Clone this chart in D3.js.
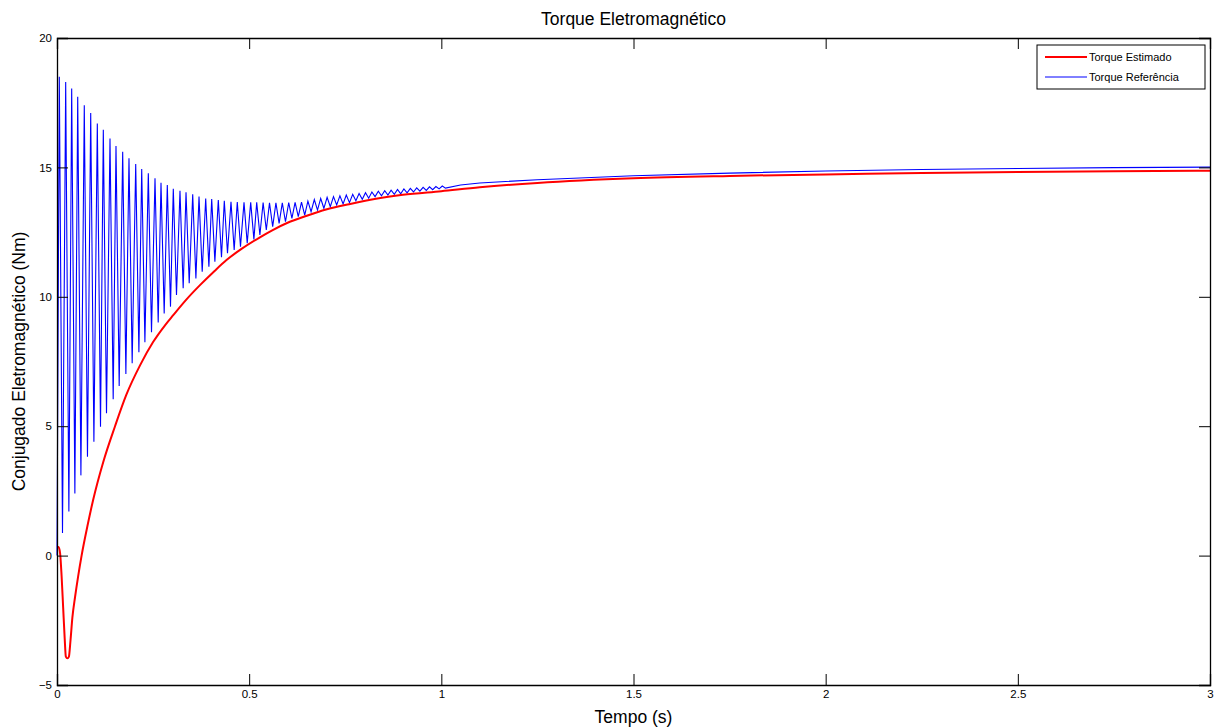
<!DOCTYPE html>
<html>
<head>
<meta charset="utf-8">
<script src="https://cdn.jsdelivr.net/npm/d3@7"></script>
<style>
  body { margin: 0; background: #fff; }
  svg { font-family: "Liberation Sans", Arial, sans-serif; }
</style>
</head>
<body>
<div id="grafica"></div>
<script>
// Datos
var xTicks = [0, 0.5, 1, 1.5, 2, 2.5, 3]
var yTicks = [-5, 0, 5, 10, 15, 20]
var series = ["Torque Estimado", "Torque Referência"]

// Torque estimado (linea roja)
var estT = [0, 0.004, 0.008, 0.012, 0.016, 0.02, 0.023, 0.027, 0.031, 0.035, 0.04, 0.047, 0.055, 0.064, 0.08, 0.094, 0.12, 0.151, 0.18, 0.216, 0.25, 0.281, 0.303, 0.337, 0.372, 0.41, 0.441, 0.48, 0.528, 0.56, 0.6, 0.65, 0.7, 0.76, 0.83, 0.9, 1.0, 1.1, 1.25, 1.5, 1.75, 2.0, 2.25, 2.5, 2.75, 3.0]
var estV = [0.33, 0.33, 0.1, -0.8, -2.0, -3.2, -3.9, -3.97, -3.9, -3.3, -2.4, -1.6, -0.8, 0, 1.2, 2.15, 3.6, 5.0, 6.2, 7.35, 8.25, 8.9, 9.3, 9.9, 10.45, 11.0, 11.42, 11.85, 12.3, 12.57, 12.86, 13.13, 13.37, 13.58, 13.79, 13.94, 14.08, 14.23, 14.4, 14.58, 14.67, 14.73, 14.78, 14.82, 14.85, 14.87]

// Torque referencia (linea azul): picos y valles de la oscilacion
var refPeakT = [0.0060, 0.0226, 0.0382, 0.0539, 0.0710, 0.0877, 0.1049, 0.1205, 0.1379, 0.1535, 0.1709, 0.1873, 0.2048, 0.2204, 0.2376, 0.2550, 0.2706, 0.2870, 0.3026, 0.3200, 0.3357, 0.3531, 0.3695, 0.3869, 0.4025, 0.4197, 0.4353, 0.4527, 0.4691, 0.4866, 0.5040, 0.5196, 0.5363, 0.5529, 0.5696, 0.5862, 0.6029, 0.6195, 0.6362, 0.6528, 0.6695, 0.6861, 0.7028, 0.7194, 0.7361, 0.7527, 0.7694, 0.7860, 0.8027, 0.8193, 0.8360, 0.8527, 0.8693, 0.8860, 0.9026, 0.9193, 0.9359, 0.9526, 0.9692, 0.9859, 1.0025]
var refPeakV = [18.5, 18.3, 18.05, 17.73, 17.4, 17.1, 16.7, 16.45, 16.12, 15.83, 15.6, 15.35, 15.13, 14.94, 14.77, 14.58, 14.41, 14.32, 14.17, 14.1, 14.04, 13.96, 13.87, 13.8, 13.78, 13.74, 13.71, 13.67, 13.66, 13.65, 13.65, 13.65, 13.64, 13.63, 13.63, 13.63, 13.64, 13.65, 13.66, 13.7, 13.76, 13.8, 13.84, 13.87, 13.9, 13.93, 13.96, 13.99, 14.02, 14.05, 14.08, 14.1, 14.12, 14.15, 14.17, 14.19, 14.21, 14.23, 14.25, 14.26, 14.28]
var refTroughT = [0.0143, 0.0309, 0.0465, 0.0622, 0.0793, 0.0960, 0.1132, 0.1288, 0.1462, 0.1618, 0.1792, 0.1956, 0.2131, 0.2287, 0.2459, 0.2633, 0.2789, 0.2953, 0.3109, 0.3283, 0.3440, 0.3614, 0.3778, 0.3952, 0.4108, 0.4280, 0.4436, 0.4610, 0.4774, 0.4949, 0.5123, 0.5279, 0.5446, 0.5612, 0.5779, 0.5945, 0.6112, 0.6278, 0.6445, 0.6611, 0.6778, 0.6944, 0.7111, 0.7277, 0.7444, 0.7610, 0.7777, 0.7943, 0.8110, 0.8276, 0.8443, 0.8610, 0.8776, 0.8943, 0.9109, 0.9276, 0.9442, 0.9609, 0.9775, 0.9942, 1.0108]
var refTroughV = [0.87, 1.7, 2.4, 3.1, 3.82, 4.4, 4.98, 5.5, 6.04, 6.55, 7.02, 7.43, 7.86, 8.24, 8.63, 9.01, 9.36, 9.62, 10.07, 10.33, 10.52, 10.71, 10.97, 11.16, 11.36, 11.53, 11.68, 11.81, 11.94, 12.07, 12.22, 12.39, 12.58, 12.71, 12.84, 12.9, 13.03, 13.1, 13.16, 13.29, 13.35, 13.42, 13.48, 13.55, 13.59, 13.64, 13.71, 13.77, 13.81, 13.87, 13.9, 13.93, 13.96, 13.98, 14.02, 14.05, 14.08, 14.11, 14.14, 14.17, 14.2]
// inicio y cola sin oscilacion
var refStartT = [0]
var refStartV = [0]
var refTailT = [1.05, 1.1, 1.25, 1.5, 1.75, 2.0, 2.25, 2.5, 2.75, 3.0]
var refTailV = [14.32, 14.4, 14.52, 14.68, 14.78, 14.86, 14.92, 14.96, 14.99, 15.01]

function pares(ts, vs) { return ts.map((t, i) => [t, vs[i]]) }

var datosEst = pares(estT, estV)
var datosRef = d3.merge([
    pares(refStartT, refStartV),
    pares(refPeakT, refPeakV),
    pares(refTroughT, refTroughV),
    pares(refTailT, refTailV)
]).sort((a, b) => a[0] - b[0])

var width = 1218
var height = 728
var margin = ({ top: 38, right: 8, bottom: 43, left: 57 })

var x = d3.scaleLinear()
    .domain([0, 3])
    .range([margin.left, width - margin.right])

var y = d3.scaleLinear()
    .domain([-5, 20])
    .range([height - margin.bottom, margin.top])

var svg = d3.select("#grafica")
    .append("svg")
    .attr("width", width)
    .attr("height", height)

// lineas
var linea = d3.line()
    .x(d => x(d[0]))
    .y(d => y(d[1]))

var lineaSuave = d3.line()
    .x(d => x(d[0]))
    .y(d => y(d[1]))
    .curve(d3.curveMonotoneX)

svg.append("path")
    .datum(datosRef)
    .attr("fill", "none")
    .attr("stroke", "#0000ff")
    .attr("stroke-width", 1.1)
    .attr("d", linea)

svg.append("path")
    .datum(datosEst)
    .attr("fill", "none")
    .attr("stroke", "#ff0000")
    .attr("stroke-width", 2)
    .attr("stroke-linejoin", "round")
    .attr("d", lineaSuave)

// ejes estilo matlab (ticks hacia dentro, en los cuatro lados)
var tick = 11
svg.append("g")
    .attr("transform", `translate(0,${y(-5)})`)
    .call(d3.axisBottom(x).tickValues(xTicks).tickSize(-tick).tickPadding(5).tickFormat(d3.format("")))
svg.append("g")
    .attr("transform", `translate(0,${y(20)})`)
    .call(d3.axisTop(x).tickValues(xTicks).tickSize(-tick).tickFormat(""))
svg.append("g")
    .attr("transform", `translate(${x(0)},0)`)
    .call(d3.axisLeft(y).tickValues(yTicks).tickSize(-tick).tickPadding(5).tickFormat(d3.format("")))
svg.append("g")
    .attr("transform", `translate(${x(3)},0)`)
    .call(d3.axisRight(y).tickValues(yTicks).tickSize(-tick).tickFormat(""))

svg.selectAll(".tick text")
    .attr("font-size", 11.5)
    .attr("font-family", "Liberation Sans, Arial, sans-serif")
    .attr("fill", "#000")
svg.selectAll(".domain, .tick line").attr("stroke", "#000")
svg.selectAll(".domain").attr("stroke-width", 1.3)

// textos
svg.append("text")
    .attr("x", (x(0) + x(3)) / 2)
    .attr("y", 25)
    .attr("text-anchor", "middle")
    .attr("font-size", 17.5)
    .text("Torque Eletromagnético")

svg.append("text")
    .attr("x", (x(0) + x(3)) / 2)
    .attr("y", 723)
    .attr("text-anchor", "middle")
    .attr("font-size", 17.5)
    .text("Tempo (s)")

svg.append("text")
    .attr("transform", `translate(25,${(y(-5) + y(20)) / 2}) rotate(-90)`)
    .attr("text-anchor", "middle")
    .attr("font-size", 17.5)
    .text("Conjugado Eletromagnético (Nm)")

// leyenda
var colores = ["#ff0000", "#0000ff"]
var anchos = [2, 1]
var leyenda = svg.append("g")
leyenda.append("rect")
    .attr("x", 1037)
    .attr("y", 45)
    .attr("width", 168)
    .attr("height", 44)
    .attr("fill", "#fff")
    .attr("stroke", "#000")
    .attr("stroke-width", 1)
var item = leyenda.selectAll(".item")
    .data(series)
    .join("g")
    .attr("transform", (d, i) => `translate(0,${57 + i * 20})`)
item.append("line")
    .attr("x1", 1045).attr("x2", 1087)
    .attr("stroke", (d, i) => colores[i])
    .attr("stroke-width", (d, i) => anchos[i])
item.append("text")
    .attr("x", 1089)
    .attr("y", 4)
    .attr("font-size", 11)
    .text(d => d)
</script>
</body>
</html>
